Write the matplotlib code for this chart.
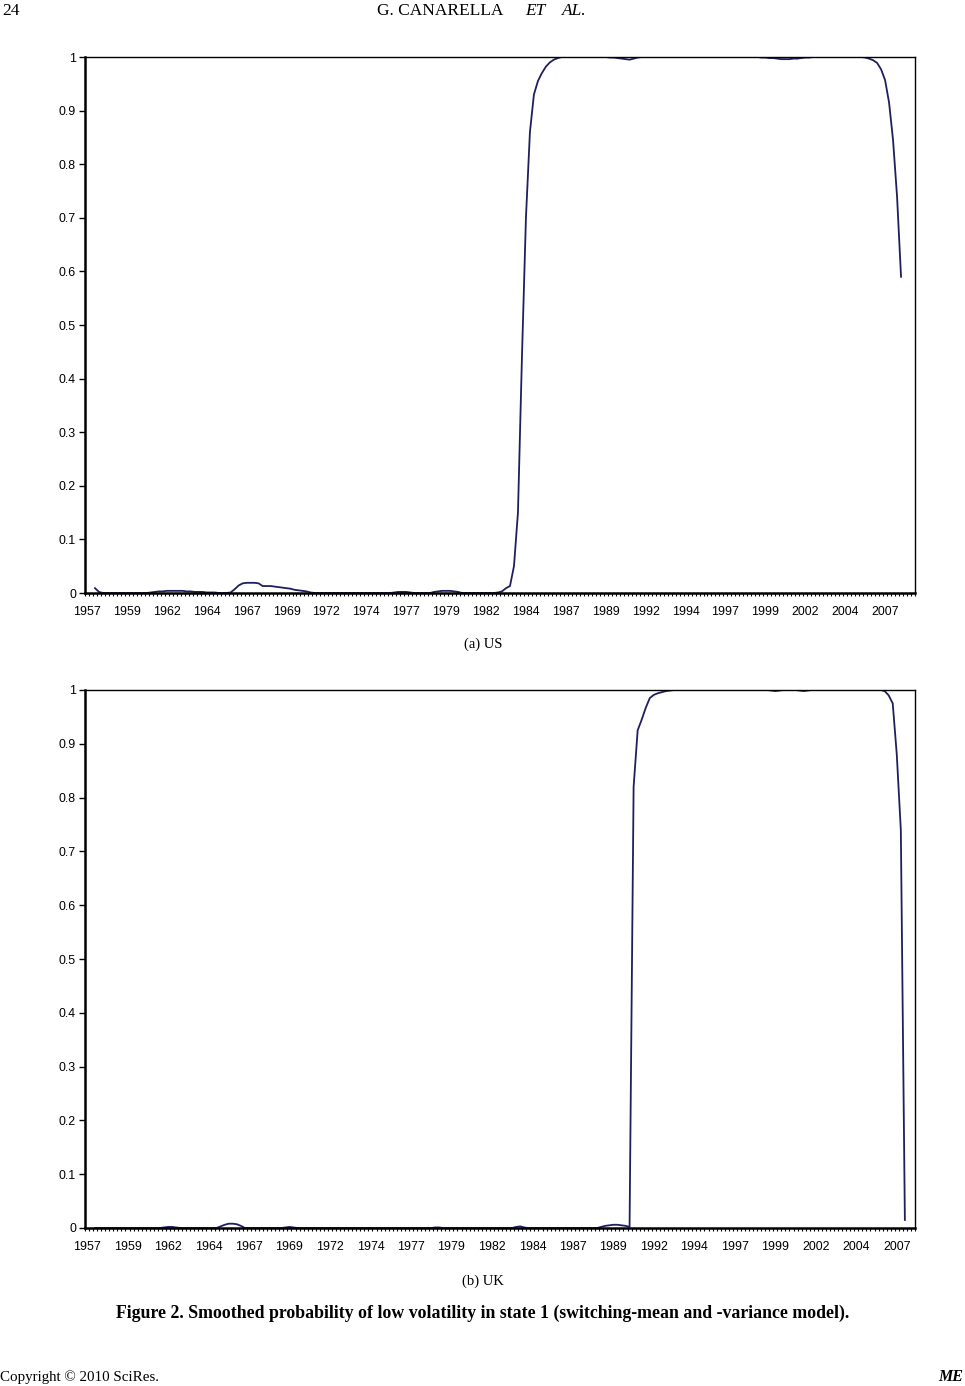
import matplotlib
matplotlib.use("Agg")
import matplotlib.pyplot as plt
import numpy as np
from matplotlib.ticker import FixedLocator, NullFormatter

# ---------------- data ----------------
year_labels = ["1957", "1959", "1962", "1964", "1967", "1969", "1972", "1974", "1977",
               "1979", "1982", "1984", "1987", "1989", "1992", "1994", "1997", "1999",
               "2002", "2004", "2007"]
y_ticks = [0, 0.1, 0.2, 0.3, 0.4, 0.5, 0.6, 0.7, 0.8, 0.9, 1]
y_tick_labels = ["0", "0.1", "0.2", "0.3", "0.4", "0.5", "0.6", "0.7", "0.8", "0.9", "1"]

us_n_categories = 208
us_start = 2
us_prob = [
    0.009, 0.002, 0, 0, 0, 0, 0, 0, 0, 0,                 # 2-11
    0, 0, 0, 0, 0.001, 0.002, 0.003, 0.003, 0.004, 0.004,  # 12-21
    0.004, 0.004, 0.004, 0.003, 0.003, 0.002, 0.002, 0.002, 0.001, 0.001,  # 22-31
    0.001, 0, 0, 0, 0.001, 0.007, 0.014, 0.018, 0.019, 0.019,  # 32-41
    0.019, 0.018, 0.013, 0.013, 0.013, 0.012, 0.011, 0.010, 0.009, 0.008,  # 42-51
    0.006, 0.005, 0.004, 0.003, 0.001, 0, 0, 0, 0, 0,      # 52-61
    0, 0, 0, 0, 0, 0, 0, 0, 0, 0,                          # 62-71
    0, 0, 0, 0, 0, 0.001, 0.002, 0.002, 0.002, 0.001,      # 72-81
    0, 0, 0, 0, 0, 0.002, 0.003, 0.004, 0.004, 0.004,      # 82-91
    0.003, 0.002, 0, 0, 0, 0, 0, 0, 0, 0,                  # 92-101
    0, 0.001, 0.003, 0.009, 0.013, 0.05, 0.15, 0.44, 0.70, 0.86,  # 102-111
    0.93, 0.955, 0.97, 0.982, 0.99, 0.995, 0.998, 1, 1, 1,  # 112-121
    1, 1, 1, 1, 1, 1, 1, 1, 1, 0.999,                      # 122-131
    0.999, 0.998, 0.997, 0.996, 0.995, 0.997, 0.999, 1, 1, 1,  # 132-141
    1, 1, 1, 1, 1, 1, 1, 1, 1, 1,                          # 142-151
    1, 1, 1, 1, 1, 1, 1, 1, 1, 1,                          # 152-161
    1, 1, 1, 1, 1, 1, 1, 0.999, 0.999, 0.998,              # 162-171
    0.998, 0.997, 0.996, 0.996, 0.996, 0.997, 0.997, 0.998, 0.999, 0.999,  # 172-181
    1, 1, 1, 1, 1, 1, 1, 1, 1, 1,                          # 182-191
    1, 1, 1, 0.999, 0.997, 0.994, 0.989, 0.977, 0.957, 0.915,  # 192-201
    0.845, 0.74, 0.59,                                     # 202-204
]

uk_n_categories = 205
uk_start = 2
uk_prob = [
    0, 0, 0, 0, 0, 0, 0, 0, 0, 0,                          # 2-11
    0, 0, 0, 0, 0, 0, 0, 0.001, 0.002, 0.002,              # 12-21
    0.001, 0, 0, 0, 0, 0, 0, 0, 0, 0,                      # 22-31
    0, 0.003, 0.006, 0.008, 0.008, 0.007, 0.004, 0, 0, 0,  # 32-41
    0, 0, 0, 0, 0, 0, 0, 0.001, 0.002, 0.001,              # 42-51
    0, 0, 0, 0, 0, 0, 0, 0, 0, 0,                          # 52-61
    0, 0, 0, 0, 0, 0, 0, 0, 0, 0,                          # 62-71
    0, 0, 0, 0, 0, 0, 0, 0, 0, 0,                          # 72-81
    0, 0, 0, 0, 0.001, 0.001, 0, 0, 0, 0,                  # 82-91
    0, 0, 0, 0, 0, 0, 0, 0, 0, 0,                          # 92-101
    0, 0, 0, 0, 0.002, 0.003, 0.001, 0, 0, 0,              # 102-111
    0, 0, 0, 0, 0, 0, 0, 0, 0, 0,                          # 112-121
    0, 0, 0, 0, 0, 0.002, 0.004, 0.005, 0.006, 0.006,      # 122-131
    0.005, 0.004, 0.002, 0.82, 0.925, 0.945, 0.967, 0.985, 0.991, 0.994,  # 132-141
    0.996, 0.998, 0.999, 1, 1, 1, 1, 1, 1, 1,              # 142-151
    1, 1, 1, 1, 1, 1, 1, 1, 1, 1,                          # 152-161
    1, 1, 1, 1, 1, 1, 1, 0.999, 0.998, 0.999,              # 162-171
    1, 1, 1, 1, 0.999, 0.998, 0.999, 1, 1, 1,              # 172-181
    1, 1, 1, 1, 1, 1, 1, 1, 1, 1,                          # 182-191
    1, 1, 1, 1, 1, 0.998, 0.99, 0.975, 0.88, 0.74,         # 192-201
    0.015,                                                 # 202
]

# ---------------- styling ----------------
LINE = "#1f1f5e"
SANS = ["Liberation Sans", "DejaVu Sans"]
SERIF = ["Liberation Serif", "DejaVu Serif"]

W, H = 965, 1386
fig = plt.figure(figsize=(W / 100, H / 100), dpi=100)
fig.patch.set_facecolor("white")


def px_axes(x0, y_top, x1, y_bot):
    return fig.add_axes([x0 / W, 1 - y_bot / H, (x1 - x0) / W, (y_bot - y_top) / H])


def draw_panel(ax, values, start, ncat):
    x = np.arange(start, start + len(values))
    ax.plot(x, values, color=LINE, lw=1.3, solid_joinstyle="round")
    ax.set_xlim(-0.5, ncat - 0.5)
    ax.set_ylim(0, 1)
    # category labels every 10 quarters
    ax.set_xticks(np.arange(0, 10 * len(year_labels), 10))
    ax.set_xticklabels(year_labels, family=SANS, fontsize=8.9)
    ax.xaxis.set_minor_locator(FixedLocator(np.arange(-0.5, ncat, 1)))
    ax.xaxis.set_minor_formatter(NullFormatter())
    ax.tick_params(axis="x", which="major", length=0, pad=9.5)
    ax.tick_params(axis="x", which="minor", length=2.5, width=0.8, direction="out", color="black")
    ax.set_yticks(y_ticks)
    ax.set_yticklabels(y_tick_labels, family=SANS, fontsize=8.9)
    ax.tick_params(axis="y", length=4.5, width=1.0, pad=2, direction="out")
    for s in ["left", "bottom"]:
        ax.spines[s].set_linewidth(1.8)
    for s in ["top", "right"]:
        ax.spines[s].set_linewidth(1.0)
    for s in ax.spines.values():
        s.set_color("black")
    ax.set_facecolor("white")


ax_us = px_axes(85, 57, 915, 593)
draw_panel(ax_us, us_prob, us_start, us_n_categories)

ax_uk = px_axes(85, 690, 915, 1228)
draw_panel(ax_uk, uk_prob, uk_start, uk_n_categories)


def ftext(xp, yp, s, **kw):
    fig.text(xp / W, 1 - yp / H, s, **kw)


# header
ftext(2, 11, "24", family=SERIF, fontsize=12.5, ha="left", va="center")
ftext(377, 11, "G. CANARELLA", family=SERIF, fontsize=12.5, ha="left", va="center")
ftext(525, 11, "ET", family=SERIF, fontsize=12.5, style="italic", ha="left", va="center")
ftext(562, 11, "AL.", family=SERIF, fontsize=12.5, style="italic", ha="left", va="center")

# panel captions
ftext(483, 644, "(a) US", family=SERIF, fontsize=10.5, ha="center", va="center")
ftext(483, 1281, "(b) UK", family=SERIF, fontsize=10.5, ha="center", va="center")

# figure caption
ftext(483, 1313, "Figure 2. Smoothed probability of low volatility in state 1 (switching-mean and -variance model).",
      family=SERIF, fontsize=12.8, weight="bold", ha="center", va="center")

# footer
ftext(0, 1377, "Copyright © 2010 SciRes.", family=SERIF, fontsize=10.8, ha="left", va="center")
ftext(963, 1377, "ME", family=SERIF, fontsize=11.5, weight="bold", style="italic", ha="right", va="center")

fig.savefig("out.png", dpi=100, facecolor="white")
